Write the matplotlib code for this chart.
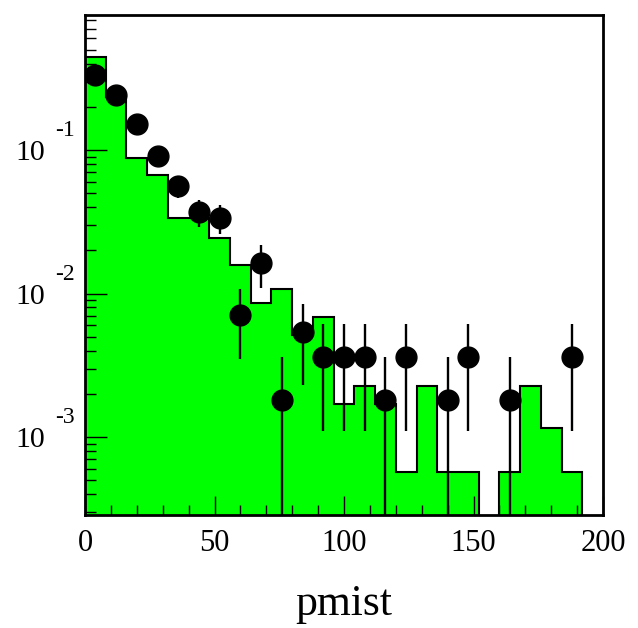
"""pmist distribution: normalised MC histogram (green) vs data points, log y."""

import matplotlib
matplotlib.use("Agg")
import matplotlib.pyplot as plt
import numpy as np
from matplotlib.transforms import ScaledTranslation, blended_transform_factory

plt.rcParams["font.family"] = ["Liberation Serif", "DejaVu Serif"]

# MC histogram, 25 bins of width 8 between 0 and 200
bin_edges = np.linspace(0, 200, 26)
mc_frac = [0.445, 0.234, 0.088, 0.067, 0.0336, 0.0336, 0.0244, 0.0158, 0.0086,
           0.0107, 0.0051, 0.0069, 0.0017, 0.00227, 0.0017, 0.00057, 0.00227,
           0.00057, 0.00057, 0.0, 0.00057, 0.00227, 0.00116, 0.00057, 0.0]

# data points (bin centres) with their errors
data_x = [4, 12, 20, 28, 36, 44, 52, 60, 68, 76, 84, 92, 100, 108, 116, 124,
          140, 148, 164, 188]
data_y = [0.333, 0.242, 0.152, 0.0908, 0.0561, 0.037, 0.0336, 0.0071, 0.0163,
          0.0018, 0.0054, 0.0036, 0.0036, 0.0036, 0.0018, 0.0036, 0.0018, 0.0036,
          0.0018, 0.0036]
data_err = [0.0245, 0.021, 0.0165, 0.0128, 0.010, 0.0080, 0.0077, 0.0036, 0.0054,
            0.0018, 0.0031, 0.0025, 0.0025, 0.0025, 0.0018, 0.0025, 0.0018, 0.0025,
            0.0018, 0.0025]

x_ticks = [0, 50, 100, 150, 200]
y_decades = [1e-3, 1e-2, 1e-1]
y_exps = ["-3", "-2", "-1"]

fig = plt.figure(figsize=(6.38, 6.28), dpi=100)
ax = fig.add_axes([85 / 638, 1 - 515 / 628, 518 / 638, 500 / 628])
ax.set_yscale("log")

floor = 1e-9
h = np.where(np.asarray(mc_frac) > 0, mc_frac, floor)
ax.stairs(h, bin_edges, baseline=floor, fill=True, color="#00ff00", zorder=1)
ax.stairs(h, bin_edges, baseline=floor, color="black", lw=1.5, zorder=2)

ax.errorbar(data_x, data_y, yerr=data_err, fmt="o", color="black", ms=15,
            elinewidth=1.7, capsize=0, zorder=3)

ax.set_xlim(0, 200)
ax.set_ylim(2.86e-4, 0.873)

for s in ax.spines.values():
    s.set_linewidth(2)

ax.set_xticks(x_ticks)
ax.set_xticks(np.arange(0, 201, 10), minor=True)
ax.set_xticklabels([str(t) for t in x_ticks], fontsize=22)
ax.set_yticks(y_decades)
ax.set_yticklabels(["10"] * len(y_decades), fontsize=21.5)
ax.yaxis.set_minor_locator(matplotlib.ticker.LogLocator(subs=np.arange(2, 10)))
ax.yaxis.set_minor_formatter(matplotlib.ticker.NullFormatter())
ax.tick_params(which="both", direction="in", top=False, right=False, width=1)
ax.tick_params(axis="x", which="major", length=14, pad=10)
ax.tick_params(axis="x", which="minor", length=7)
ax.tick_params(axis="y", which="major", length=16, pad=29)
ax.tick_params(axis="y", which="minor", length=8)

trans = blended_transform_factory(ax.transAxes, ax.transData)
for yv, ex in zip(y_decades, y_exps):
    ax.text(-0.0579, yv, ex, fontsize=17, ha="left", va="center",
            transform=trans + ScaledTranslation(0, 14 / 72, fig.dpi_scale_trans))

ax.set_xlabel("pmist", fontsize=31.5, labelpad=19)

fig.savefig("out.png", dpi=100)
